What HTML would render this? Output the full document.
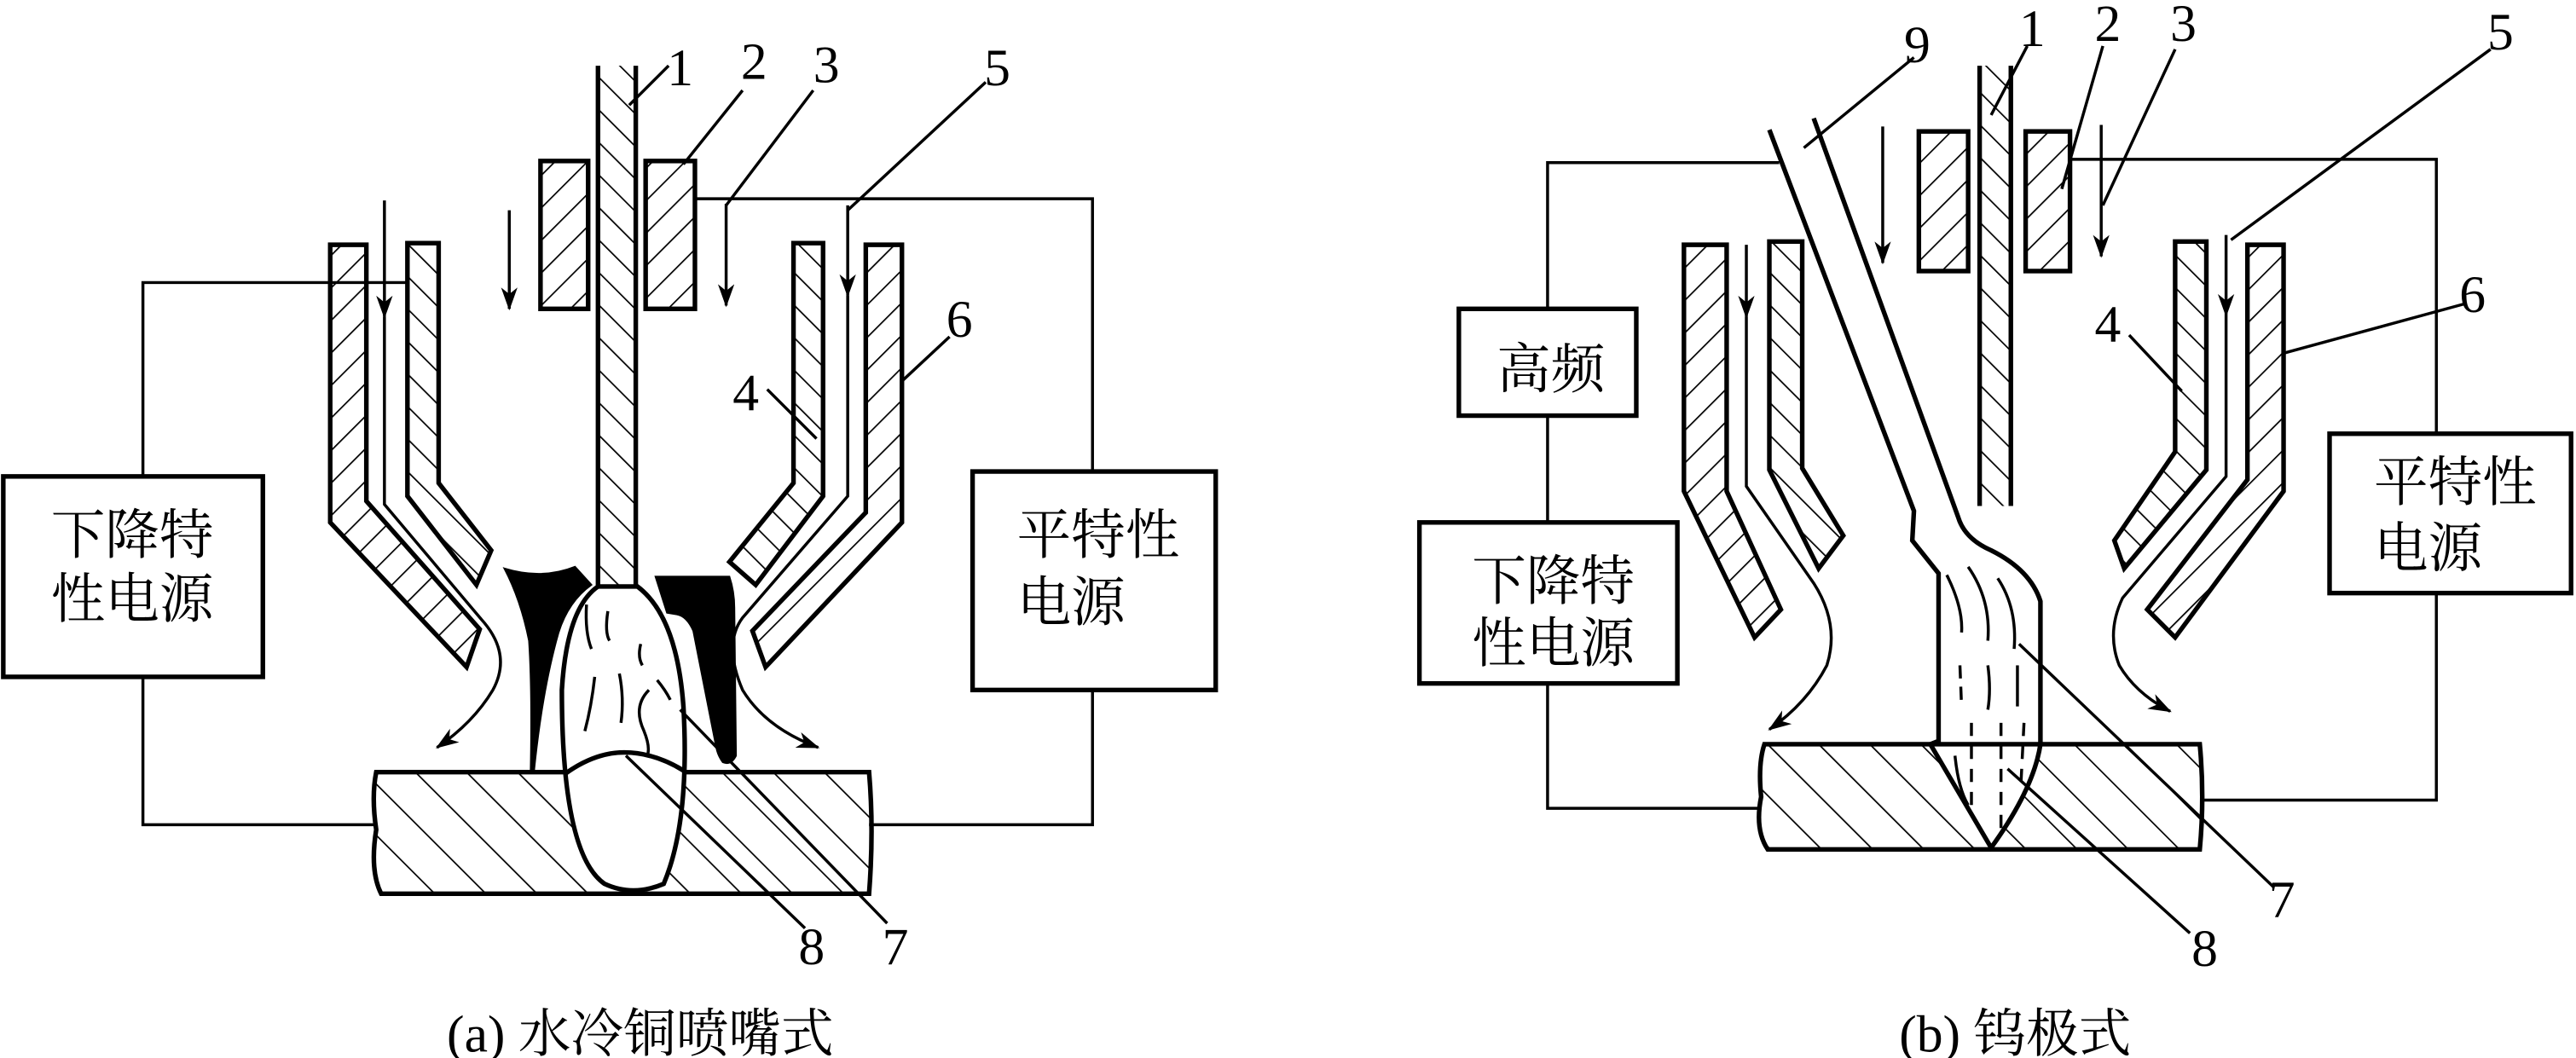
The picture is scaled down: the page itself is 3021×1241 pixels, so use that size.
<!DOCTYPE html>
<html><head><meta charset="utf-8"><style>
html,body{margin:0;padding:0;background:#fff;}
svg{display:block;}
text{font-family:"Liberation Serif","Noto Serif CJK SC","Noto Sans CJK SC",serif;fill:#000;}
</style></head><body>
<svg width="3021" height="1241" viewBox="0 0 1568 644" preserveAspectRatio="none" xmlns="http://www.w3.org/2000/svg">
<defs>
<pattern id="hf" patternUnits="userSpaceOnUse" width="14" height="14" patternTransform="rotate(45)"><line x1="0" y1="0" x2="0" y2="14" stroke="#000" stroke-width="1.8"/></pattern>
<pattern id="hb" patternUnits="userSpaceOnUse" width="14" height="14" patternTransform="rotate(-45)"><line x1="0" y1="0" x2="0" y2="14" stroke="#000" stroke-width="1.8"/></pattern>
<pattern id="hw" patternUnits="userSpaceOnUse" width="22" height="22" patternTransform="rotate(-45)"><line x1="0" y1="0" x2="0" y2="22" stroke="#000" stroke-width="1.8"/></pattern>
<marker id="ar" markerWidth="14" markerHeight="10" refX="13" refY="5" orient="auto" markerUnits="userSpaceOnUse"><path d="M0,0 L14,5 L0,10 L4,5 Z" fill="#000"/></marker>
</defs>
<g fill="none" stroke="#000" stroke-width="2.8">
<!-- ===== (a) ===== -->
<polyline points="248,172 87,172 87,290" stroke-width="1.8"/>
<polyline points="87,412 87,502 228,502" stroke-width="1.8"/>
<polyline points="423,121 665,121 665,287" stroke-width="1.8"/>
<polyline points="665,420 665,502 529,502" stroke-width="1.8"/>
<rect x="2" y="290" width="158" height="122"/>
<rect x="592" y="287" width="148" height="133"/>
<path d="M229,470 L529,470 Q532,505 529,544 L232,544 Q225,530 229,505 Q226,485 229,470 Z" fill="url(#hw)"/>
<path d="M364,357 Q345,370 342,420 Q342,520 368,538 Q385,546 404,538 Q420,500 416,430 Q412,375 388,357 Z" fill="#fff"/>
<path d="M344,471 Q362,458 380,458 Q398,458 416,469" />
<g stroke-width="1.8">
<path d="M357,368 Q356,385 360,395"/><path d="M370,372 Q368,385 371,390"/><path d="M390,392 Q388,400 391,405"/>
<path d="M377,410 Q380,425 378,440"/><path d="M362,412 Q360,430 356,445"/><path d="M395,420 Q385,430 392,445 Q396,455 394,460"/><path d="M400,414 Q405,420 408,426"/>
</g>
<path d="M307,346 Q330,353 350,345 L360,356 Q346,366 340,385 Q330,420 325,470 L323,470 Q324,420 322,390 Q317,365 307,346 Z" fill="#000" stroke-width="1"/>
<path d="M399,351 L444,351 Q447,360 447,370 L448,460 Q445,466 440,464 Q437,460 436,455 L422,384 Q418,375 412,374 L406,373 Z" fill="#000" stroke-width="1"/>
<polyline points="364,40 364,357"/><polyline points="387,40 387,357"/>
<rect x="364" y="40" width="23" height="317" fill="url(#hb)" stroke="none"/>
<rect x="329" y="98" width="29" height="90" fill="url(#hf)"/>
<rect x="393" y="98" width="30" height="90" fill="url(#hf)"/>
<polygon points="201,149 223,149 223,305 292,383 284,406 201,318" fill="url(#hf)"/>
<polygon points="248,148 267,148 267,294 299,335 290,356 248,302" fill="url(#hb)"/>
<polygon points="483,148 501,148 501,302 460,356 444,342 483,294" fill="url(#hb)"/>
<polygon points="527,149 549,149 549,318 466,406 458,384 527,312" fill="url(#hf)"/>
<line x1="310" y1="128" x2="310" y2="188" stroke-width="1.8" marker-end="url(#ar)"/>
<line x1="442" y1="124" x2="442" y2="186" stroke-width="1.8" marker-end="url(#ar)"/>
<line x1="234" y1="122" x2="234" y2="193" stroke-width="1.8" marker-end="url(#ar)"/>
<line x1="516" y1="125" x2="516" y2="180" stroke-width="1.8" marker-end="url(#ar)"/>
<path d="M234,193 L234,307 L293,377 Q312,398 300,420 Q288,440 266,455" stroke-width="1.8" marker-end="url(#ar)"/>
<path d="M516,180 L516,302 L452,376 Q440,392 452,420 Q466,443 498,455" stroke-width="1.8" marker-end="url(#ar)"/>
<g stroke-width="1.8">
<line x1="383" y1="64" x2="407" y2="40"/>
<line x1="416" y1="100" x2="452" y2="55"/>
<line x1="442" y1="125" x2="495" y2="55"/>
<line x1="516" y1="128" x2="600" y2="50"/>
<line x1="549" y1="232" x2="578" y2="205"/>
<line x1="467" y1="237" x2="497" y2="267"/>
<line x1="414" y1="432" x2="540" y2="562"/>
<line x1="381" y1="460" x2="490" y2="565"/>
</g>
<!-- ===== (b) ===== -->
<polyline points="1083,99 942,99 942,188" stroke-width="1.8"/>
<polyline points="942,253 942,318" stroke-width="1.8"/>
<polyline points="942,416 942,492 1070,492" stroke-width="1.8"/>
<polyline points="1260,97 1483,97 1483,264" stroke-width="1.8"/>
<polyline points="1483,361 1483,487 1340,487" stroke-width="1.8"/>
<rect x="888" y="188" width="108" height="65"/>
<rect x="864" y="318" width="157" height="98"/>
<rect x="1418" y="264" width="147" height="97"/>
<path d="M1074,453 L1339,453 Q1342,485 1339,517 L1076,517 Q1068,505 1072,485 Q1070,465 1074,453 Z" fill="url(#hw)"/>
<path d="M1077,79 L1165,311 L1164,329 L1180,349 L1180,451 L1175,453 L1212,516 Q1238,480 1242,453 L1242,366 Q1236,347 1212,335 Q1196,328 1192,315 L1104,72" fill="#fff"/>
<line x1="1175" y1="453" x2="1242" y2="453"/>
<g stroke-width="1.8">
<path d="M1185,350 Q1195,370 1194,385"/><path d="M1198,345 Q1212,365 1210,390"/><path d="M1216,352 Q1228,370 1226,395"/>
<path d="M1193,405 L1194,430" stroke-dasharray="8,5"/><path d="M1210,405 Q1212,420 1210,432"/><path d="M1228,405 L1228,430"/>
<path d="M1200,440 L1200,490" stroke-dasharray="8,6"/><path d="M1218,440 L1218,505" stroke-dasharray="8,6"/><path d="M1232,440 L1230,480" stroke-dasharray="8,6"/>
<path d="M1190,460 Q1192,480 1198,490"/>
</g>
<polyline points="1205,40 1205,308"/><polyline points="1224,40 1224,308"/>
<rect x="1205" y="40" width="19" height="268" fill="url(#hb)" stroke="none"/>
<rect x="1168" y="80" width="30" height="85" fill="url(#hf)"/>
<rect x="1233" y="80" width="27" height="85" fill="url(#hf)"/>
<polygon points="1025,149 1051,149 1051,299 1084,371 1068,388 1025,299" fill="url(#hf)"/>
<polygon points="1077,147 1097,147 1097,285 1122,326 1107,346 1077,286" fill="url(#hb)"/>
<polygon points="1324,147 1343,147 1343,286 1293,346 1287,329 1324,275" fill="url(#hb)"/>
<polygon points="1368,149 1390,149 1390,299 1324,388 1307,371 1368,292" fill="url(#hf)"/>
<line x1="1146" y1="77" x2="1146" y2="160" stroke-width="1.8" marker-end="url(#ar)"/>
<line x1="1279" y1="76" x2="1279" y2="156" stroke-width="1.8" marker-end="url(#ar)"/>
<line x1="1063" y1="149" x2="1063" y2="193" stroke-width="1.8" marker-end="url(#ar)"/>
<line x1="1355" y1="143" x2="1355" y2="192" stroke-width="1.8" marker-end="url(#ar)"/>
<path d="M1063,193 L1063,296 L1104,355 Q1120,380 1112,405 Q1100,428 1077,444" stroke-width="1.8" marker-end="url(#ar)"/>
<path d="M1355,192 L1355,290 L1292,364 Q1282,385 1290,405 Q1300,422 1321,433" stroke-width="1.8" marker-end="url(#ar)"/>
<g stroke-width="1.8">
<line x1="1098" y1="90" x2="1165" y2="35"/>
<line x1="1212" y1="70" x2="1234" y2="28"/>
<line x1="1255" y1="115" x2="1280" y2="28"/>
<line x1="1280" y1="125" x2="1324" y2="30"/>
<line x1="1358" y1="146" x2="1516" y2="30"/>
<line x1="1390" y1="215" x2="1500" y2="185"/>
<line x1="1296" y1="204" x2="1328" y2="238"/>
<line x1="1229" y1="392" x2="1384" y2="540"/>
<line x1="1222" y1="468" x2="1333" y2="568"/>
</g>
</g>
<g font-size="32">
<text x="406" y="52">1</text><text x="451" y="48">2</text><text x="495" y="50">3</text><text x="599" y="52">5</text>
<text x="576" y="205">6</text><text x="446" y="250">4</text><text x="537" y="587">7</text><text x="486" y="587">8</text>
<text x="1159" y="38">9</text><text x="1229" y="28">1</text><text x="1275" y="25">2</text><text x="1321" y="25">3</text>
<text x="1514" y="30">5</text><text x="1497" y="190">6</text><text x="1275" y="208">4</text><text x="1381" y="558">7</text><text x="1334" y="588">8</text>
</g>
<g font-size="33" font-family="'Noto Serif CJK SC','Noto Sans CJK SC',serif">
<text x="31" y="337">下降特</text><text x="31" y="376">性电源</text>
<text x="619" y="337">平特性</text><text x="619" y="378">电源</text>
<text x="911" y="236">高频</text>
<text x="896" y="365">下降特</text><text x="896" y="403">性电源</text>
<text x="1445" y="305">平特性</text><text x="1445" y="345">电源</text>
</g>
<g font-size="32" font-family="'Liberation Serif','Noto Serif CJK SC',serif">
<text x="272" y="640">(a) 水冷铜喷嘴式</text>
<text x="1156" y="640">(b) 钨极式</text>
</g>
</svg>
</body></html>
